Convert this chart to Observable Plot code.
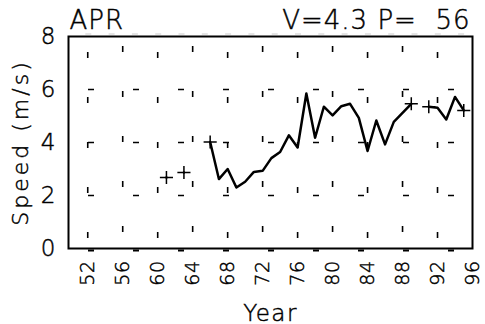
<!DOCTYPE html>
<html><head><meta charset="utf-8">
<script src="https://cdn.jsdelivr.net/npm/d3@7"></script>
<script src="https://cdn.jsdelivr.net/npm/@observablehq/plot@0.6"></script>
<style>
body{margin:0;background:#fff;}
svg{white-space:pre;}
svg text{font-weight:200;stroke:black;stroke-width:0.45px;}
g[aria-label="y-axis tick label"] text{font-size:23px;}
g[aria-label="x-axis tick label"] text{font-size:19px;letter-spacing:0.5px;}
g[aria-label="y-axis label"] text{font-size:22px;letter-spacing:3px;}
g[aria-label="x-axis label"] text{font-size:23px;letter-spacing:1.5px;}
g[aria-label="text"] text{letter-spacing:1px;}
</style></head><body><div id="chart"></div>
<script>
const month = "APR";
const stats = "V=4.3 P=  56";
const years = [61,62,63,64,65,66,67,68,69,70,71,72,73,74,75,76,77,78,79,80,81,82,83,84,85,86,87,88,89,90,91,92,93,94,95];
const speeds = [2.68,null,2.87,null,null,4.02,2.62,3.0,2.30,2.52,2.89,2.93,3.41,3.64,4.27,3.81,5.85,4.18,5.35,5.02,5.37,5.46,4.93,3.68,4.83,3.93,4.78,5.12,5.46,null,5.35,5.31,4.87,5.72,5.21];
const markerYears = [61,63,66,89,91,95];
const xTicks = [52,56,60,64,68,72,76,80,84,88,92,96];
const yTicks = [0,2,4,6,8];

const data = years.map((y,i)=>({year:y, speed:speeds[i]}));
const markers = data.filter(d=>markerYears.includes(d.year));
const xDomain = [49.8, 96];
const gridXEven = xTicks.filter((t,i)=>i%2===0 && t<96);
const gridXOdd = xTicks.filter((t,i)=>i%2===1 && t<96);

const chart = Plot.plot({
  width: 485, height: 324,
  marginLeft: 68, marginRight: 13, marginTop: 36, marginBottom: 76,
  style: {fontFamily: "'DejaVu Sans', sans-serif", fontSize: "20px", color: "black", background: "white"},
  x: {domain: xDomain, label: null},
  y: {domain: [0, 8], label: null},
  marks: [
    Plot.ruleX(gridXEven, {x: d=>d, y1: 0, y2: 8, stroke: "black", strokeWidth: 1.6, strokeDasharray: "6 39", strokeDashoffset: 35}),
    Plot.ruleX(gridXOdd, {x: d=>d, y1: 0, y2: 8, stroke: "black", strokeWidth: 1.6, strokeDasharray: "6 39", strokeDashoffset: 29}),
    Plot.ruleY(yTicks.slice(1, 4), {y: d=>d, x1: xDomain[0], x2: xDomain[1], stroke: "black", strokeWidth: 1.5, strokeDasharray: "6 39", strokeDashoffset: 25}),
    Plot.ruleY([0], {y: d=>d, x1: xDomain[0], x2: xDomain[1], dy: 2, stroke: "black", strokeWidth: 2, strokeDasharray: "6 39", strokeDashoffset: 25}),
    Plot.ruleY([8], {y: d=>d, x1: xDomain[0], x2: xDomain[1], dy: -2.5, stroke: "#ccc", strokeWidth: 1.2, strokeDasharray: "6 17.3", strokeDashoffset: 6}),
    Plot.frame({stroke: "black", strokeWidth: 2}),
    Plot.axisX(xTicks, {tickRotate: -90, tickSize: 0, tickPadding: 12, tickFormat: d=>String(d), label: "Year", labelAnchor: "center", labelOffset: 72, labelArrow: "none"}),
    Plot.axisY(yTicks, {tickSize: 0, tickPadding: 13, label: "Speed (m/s)", labelAnchor: "center", labelOffset: 56, labelArrow: "none"}),
    Plot.line(data, {x: "year", y: "speed", stroke: "black", strokeWidth: 2.5}),
    Plot.dot(markers, {x: "year", y: "speed", symbol: "plus", r: 4.3, stroke: "black", strokeWidth: 1.5}),
    Plot.text([month], {frameAnchor: "top-left", text: d=>d, textAnchor: "start", lineAnchor: "bottom", dx: 1, dy: -8, fontSize: 26}),
    Plot.text([stats], {frameAnchor: "top-right", text: d=>d, textAnchor: "end", lineAnchor: "bottom", dx: -2, dy: -8, fontSize: 26})
  ]
});
document.getElementById("chart").appendChild(chart);
</script>
</body></html>
